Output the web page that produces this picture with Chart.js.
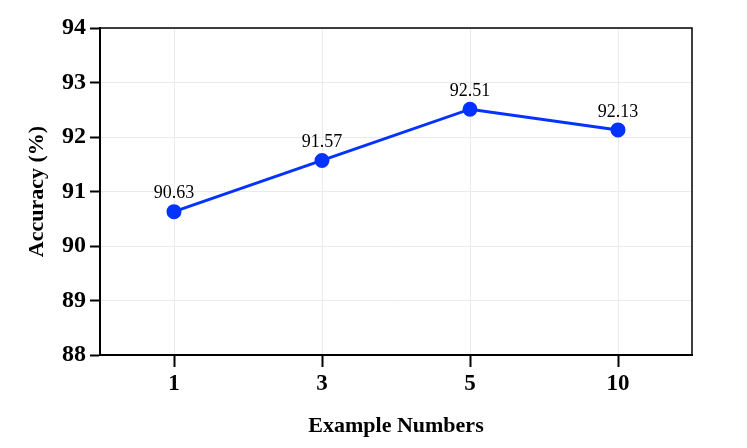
<!DOCTYPE html>
<html><head><meta charset="utf-8">
<script src="https://cdn.jsdelivr.net/npm/chart.js@4/dist/chart.umd.min.js"></script>
<style>html,body{margin:0;padding:0;background:#fff}#wrap{width:747px;height:448px}</style>
</head><body><div id="wrap"><canvas id="c"></canvas></div>
<script>
const categories = ["1", "3", "5", "10"];
const accuracy = [90.63, 91.57, 92.51, 92.13];
const yTicks = [88, 89, 90, 91, 92, 93, 94];
const xTitle = "Example Numbers";
const yTitle = "Accuracy (%)";

const SERIF = "'Liberation Serif','Times New Roman',serif";

const framePlugin = {
  id: 'frame',
  afterDraw(chart) {
    const {ctx, chartArea: a} = chart;
    ctx.save();
    ctx.strokeStyle = '#000';
    ctx.lineWidth = 1.5;
    ctx.beginPath();
    ctx.moveTo(a.left, a.top); ctx.lineTo(a.right, a.top); ctx.lineTo(a.right, a.bottom);
    ctx.stroke();
    ctx.restore();
  }
};
const labelPlugin = {
  id: 'vlabels',
  afterDatasetsDraw(chart) {
    const {ctx} = chart;
    const meta = chart.getDatasetMeta(0);
    ctx.save();
    ctx.font = "18px " + SERIF;
    ctx.fillStyle = '#000';
    ctx.textAlign = 'center';
    ctx.textBaseline = 'bottom';
    meta.data.forEach((p, i) => {
      ctx.fillText(accuracy[i].toFixed(2), p.x, p.y - 9);
    });
    ctx.restore();
  }
};

new Chart(document.getElementById('c'), {
  type: 'line',
  data: {
    labels: categories,
    datasets: [{
      data: accuracy,
      borderColor: '#0433ff',
      backgroundColor: '#0433ff',
      borderWidth: 3,
      pointRadius: 6,
      pointHoverRadius: 6,
      pointBackgroundColor: '#0433ff',
      pointBorderColor: '#0433ff',
      tension: 0
    }]
  },
  options: {
    responsive: true,
    maintainAspectRatio: false,
    animation: false,
    events: [],
    layout: {padding: {left: 24, right: 55, top: 28, bottom: 8}},
    plugins: {legend: {display: false}, tooltip: {enabled: false}},
    scales: {
      x: {
        offset: true,
        grid: {color: '#ebebeb', lineWidth: 1, tickLength: 12, tickColor: '#000', tickWidth: 2, offset: false},
        border: {color: '#000', width: 2},
        ticks: {color: '#000', font: {family: SERIF, size: 23, weight: 'bold'}, padding: 3},
        title: {display: true, text: xTitle, color: '#000', font: {family: SERIF, size: 22, weight: 'bold'}, padding: {top: 6, bottom: 0}},
        afterFit(s) { s.height = 448 - 355 - 8; }
      },
      y: {
        min: 88, max: 94,
        afterBuildTicks(s) { s.ticks = yTicks.map(v => ({value: v})); },
        grid: {color: '#ebebeb', lineWidth: 1, tickLength: 10, tickColor: '#000', tickWidth: 2},
        border: {color: '#000', width: 2},
        ticks: {color: '#000', font: {family: SERIF, size: 24, weight: 'bold'}, padding: 4},
        title: {display: true, text: yTitle, color: '#000', font: {family: SERIF, size: 22, weight: 'bold'}, padding: {top: 0, bottom: 8}},
        afterFit(s) { s.width = 100 - 24; }
      }
    }
  },
  plugins: [framePlugin, labelPlugin]
});
</script>
</body></html>
